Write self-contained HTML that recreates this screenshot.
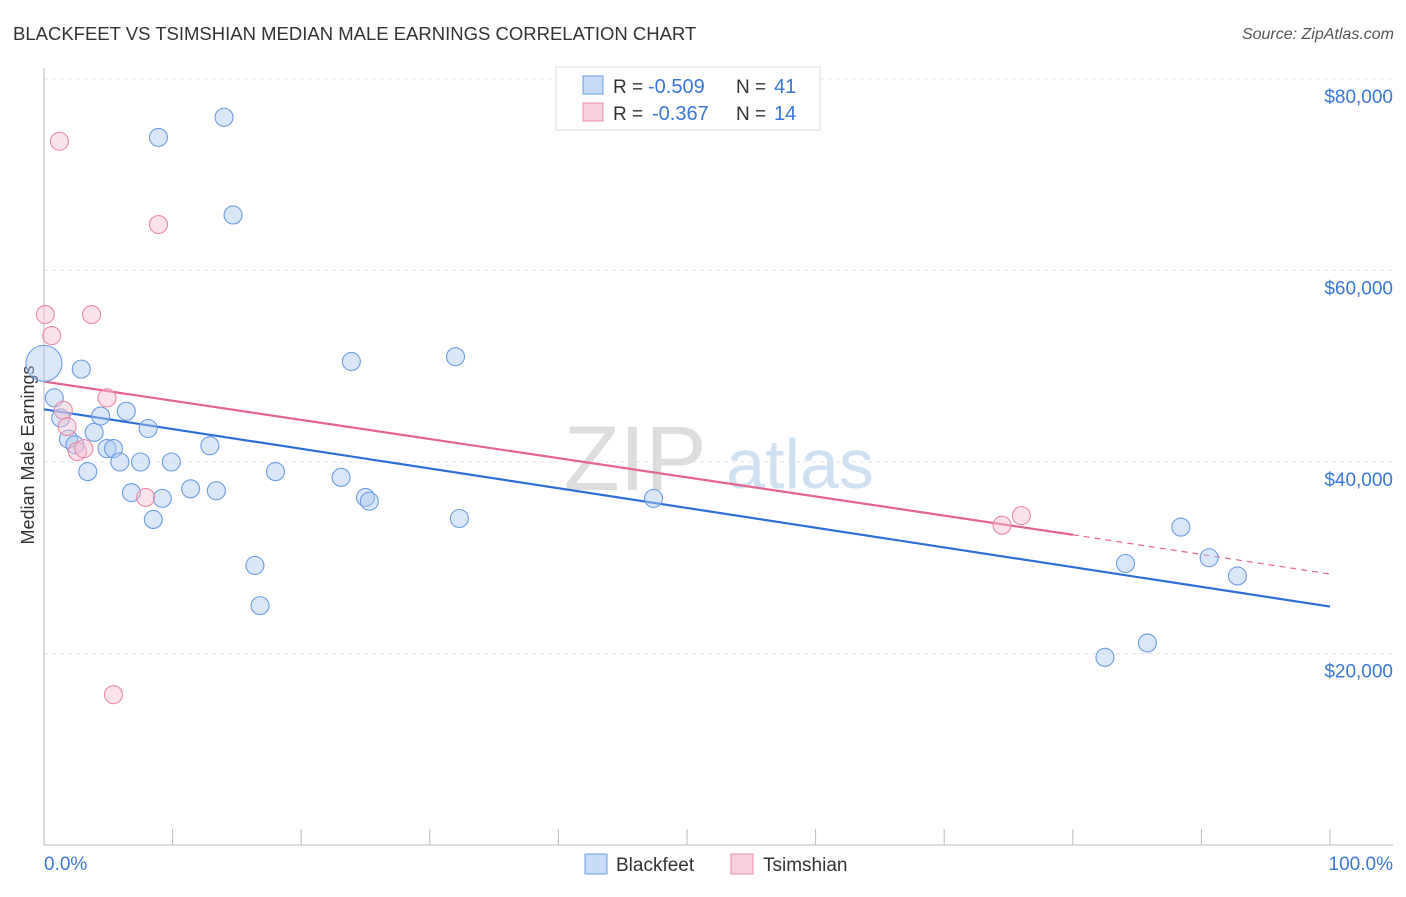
<!DOCTYPE html>
<html><head><meta charset="utf-8">
<style>
body{margin:0;background:#fff;font-family:"Liberation Sans",sans-serif;}
svg text{font-family:"Liberation Sans",sans-serif;}
</style></head>
<body>
<svg id="chart" width="1406" height="892" viewBox="0 0 1406 892" xmlns="http://www.w3.org/2000/svg">
<text x="13" y="40" font-size="18.5" fill="#333">BLACKFEET VS TSIMSHIAN MEDIAN MALE EARNINGS CORRELATION CHART</text>
<text x="1394" y="39" font-size="16" fill="#555" font-style="italic" text-anchor="end">Source: ZipAtlas.com</text>
<g>
<text x="635" y="490" font-size="92" fill="#ddd" font-family="Liberation Serif, serif" text-anchor="middle">ZIP</text>
<text x="800" y="488" font-size="70" fill="#cfe0f3" text-anchor="middle">atlas</text>
</g>
<g id="grid"></g>
<g id="axes"></g>
<text transform="translate(34,455) rotate(-90)" font-size="18" fill="#333" text-anchor="middle">Median Male Earnings</text>
<g id="trend"></g>
<g id="points"></g>
<g>
<rect x="556" y="67" width="264" height="63" fill="#fff" stroke="#ddd"/>
<rect x="583" y="76" width="20" height="18" fill="#c6dbf7" stroke="#6b9de0"/>
<rect x="583" y="103" width="20" height="18" fill="#fbd0dd" stroke="#e98aa8"/>
<text x="613" y="93" font-size="19" fill="#333">R =</text>
<text x="648" y="93" font-size="20" fill="#3a78d8">-0.509</text>
<text x="736" y="93" font-size="19" fill="#333">N =</text>
<text x="774" y="93" font-size="20" fill="#3a78d8">41</text>
<text x="613" y="120" font-size="19" fill="#333">R =</text>
<text x="652" y="120" font-size="20" fill="#3a78d8">-0.367</text>
<text x="736" y="120" font-size="19" fill="#333">N =</text>
<text x="774" y="120" font-size="20" fill="#3a78d8">14</text>
</g>
<g>
<rect x="585" y="854" width="22" height="20" fill="#c6dbf7" stroke="#6b9de0"/>
<text x="616" y="871" font-size="19" fill="#333">Blackfeet</text>
<rect x="731" y="854" width="22" height="20" fill="#fbd0dd" stroke="#e98aa8"/>
<text x="763" y="871" font-size="19" fill="#333">Tsimshian</text>
</g>
</svg>
<script>
const yTicks=[20000,40000,60000,80000];
const yTickLabels=["$20,000","$40,000","$60,000","$80,000"];
const blackX=[0.0,0.8,1.3,1.9,2.4,2.9,3.4,3.9,4.4,4.9,5.4,5.9,6.4,6.8,7.5,8.1,8.5,8.9,9.2,9.9,11.4,12.9,13.4,14.0,14.7,16.4,16.8,18.0,23.1,23.9,25.0,25.3,32.0,32.3,47.4,82.5,84.1,85.8,88.4,90.6,92.8];
const blackY=[50300,46700,44600,42400,41800,49700,39000,43100,44800,41400,41400,40000,45300,36800,40000,43500,34000,73900,36200,40000,37200,41700,37000,76000,65800,29200,25000,39000,38400,50500,36300,35900,51000,34100,36200,19600,29400,21100,33200,30000,28100];
const blackR=[2,1,1,1,1,1,1,1,1,1,1,1,1,1,1,1,1,1,1,1,1,1,1,1,1,1,1,1,1,1,1,1,1,1,1,1,1,1,1,1,1];
const tsimX=[0.1,0.6,1.2,1.5,1.8,2.6,3.1,3.7,4.9,5.4,7.9,8.9,74.5,76.0];
const tsimY=[55400,53200,73500,45400,43700,41100,41400,55400,46700,15700,36300,64800,33400,34400];
const blackTrend=[[0,45500],[100,24900]];
const tsimTrend=[[0,48400],[80,32400],[100,28300]];

const NS="http://www.w3.org/2000/svg";
const xS=v=>44+v*12.86;
const yS=v=>845-v/20000*191.5;
function mk(tag,attrs,parent){const e=document.createElementNS(NS,tag);for(const k in attrs)e.setAttribute(k,attrs[k]);document.getElementById(parent).appendChild(e);return e;}

yTicks.forEach((t,i)=>{
  const l=mk('line',{x1:44,x2:1393,y1:yS(t),y2:yS(t),stroke:'#e4e4e4','stroke-dasharray':'4,4'},'grid');
  
  
  const tx=mk('text',{x:1393,y:yS(t)+24,'font-size':19,fill:'#3a78d8','text-anchor':'end'},'grid');
  tx.textContent=yTickLabels[i];
  
  
});
let a=mk('line',{x1:44,x2:44,y1:68,y2:845,stroke:'#bbb'},'axes');


a=mk('line',{x1:44,x2:1393,y1:845,y2:845,stroke:'#bbb'},'axes');


for(let i=0;i<=10;i++){
  const t=mk('line',{x1:xS(i*10),x2:xS(i*10),y1:829,y2:845,stroke:'#bbb'},'axes');
  
  
}
let xl=mk('text',{x:44,y:870,'font-size':19,fill:'#3a78d8'},'axes');xl.textContent='0.0%';


xl=mk('text',{x:1393,y:870,'font-size':19,fill:'#3a78d8','text-anchor':'end'},'axes');xl.textContent='100.0%';



blackX.forEach((x,i)=>{
  const c=mk('circle',{cx:xS(x),cy:yS(blackY[i]),r:9*blackR[i],fill:'rgba(170,202,242,0.45)',stroke:'#6b9de0','stroke-width':1.1},'points');
  
  
});
tsimX.forEach((x,i)=>{
  const c=mk('circle',{cx:xS(x),cy:yS(tsimY[i]),r:9,fill:'rgba(248,190,210,0.45)',stroke:'#e98aa8','stroke-width':1.1},'points');
  
  
});
let tl=mk('line',{x1:xS(blackTrend[0][0]),y1:yS(blackTrend[0][1]),x2:xS(blackTrend[1][0]),y2:yS(blackTrend[1][1]),stroke:'#2d6fd6','stroke-width':2.2},'trend');


tl=mk('line',{x1:xS(tsimTrend[0][0]),y1:yS(tsimTrend[0][1]),x2:xS(tsimTrend[1][0]),y2:yS(tsimTrend[1][1]),stroke:'#e5648f','stroke-width':2.2},'trend');


tl=mk('line',{x1:xS(tsimTrend[1][0]),y1:yS(tsimTrend[1][1]),x2:xS(tsimTrend[2][0]),y2:yS(tsimTrend[2][1]),stroke:'#e5648f','stroke-width':1.2,'stroke-dasharray':'6,5'},'trend');


</script>
</body></html>
